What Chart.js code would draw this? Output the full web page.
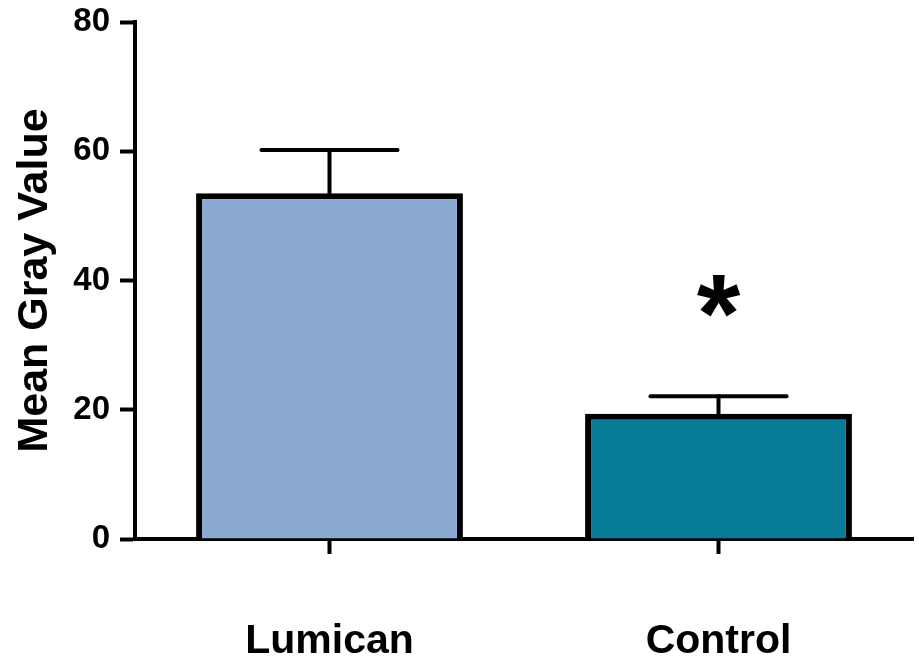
<!DOCTYPE html>
<html>
<head>
<meta charset="utf-8">
<script src="https://cdn.jsdelivr.net/npm/chart.js@4/dist/chart.umd.min.js"></script>
<style>
html,body{margin:0;padding:0;background:#fff;}
#wrap{width:919px;height:658px;position:relative;}
</style>
</head>
<body>
<div id="wrap"><canvas id="c" width="919" height="658"></canvas></div>
<script>
const categories = ['Lumican', 'Control'];
const means = [53.5, 19.4];
const sems = [6.7, 2.7];
const marks = ['', '*'];
const yTicks = [0, 20, 40, 60, 80];
const barColors = ['#8AAAD2', '#087C96'];

const FONT = "'Liberation Sans', Arial, sans-serif";

const errorBarPlugin = {
  id: 'errorBars',
  afterDatasetsDraw(chart) {
    const ctx = chart.ctx;
    const meta = chart.getDatasetMeta(0);
    const y = chart.scales.y;
    ctx.save();
    ctx.strokeStyle = '#000';
    ctx.lineWidth = 4;
    ctx.lineCap = 'round';
    meta.data.forEach((bar, i) => {
      const x = bar.x;
      const yTop = y.getPixelForValue(means[i] + sems[i]);
      const yBar = y.getPixelForValue(means[i]);
      const half = bar.width * 0.255;
      ctx.beginPath();
      ctx.moveTo(x, yBar + 2);
      ctx.lineTo(x, yTop);
      ctx.stroke();
      ctx.beginPath();
      ctx.moveTo(x - half, yTop);
      ctx.lineTo(x + half, yTop);
      ctx.stroke();
      if (marks[i]) {
        ctx.font = 'bold 112px ' + FONT;
        ctx.fillStyle = '#000';
        ctx.textAlign = 'center';
        ctx.textBaseline = 'alphabetic';
        const m = ctx.measureText(marks[i]);
        const centerY = yTop - 100;
        const top = centerY - (m.actualBoundingBoxAscent + m.actualBoundingBoxDescent) / 2;
        ctx.fillText(marks[i], x, top + m.actualBoundingBoxAscent);
      }
    });
    ctx.restore();
  }
};

new Chart(document.getElementById('c'), {
  type: 'bar',
  data: {
    labels: categories,
    datasets: [{
      data: means,
      backgroundColor: barColors,
      borderColor: '#000',
      borderWidth: 6,
      borderSkipped: 'start',
      categoryPercentage: 1,
      barPercentage: 0.686
    }]
  },
  options: {
    responsive: false,
    animation: false,
    devicePixelRatio: 1,
    layout: { padding: { top: 22, right: 6, bottom: 0, left: 0 } },
    plugins: { legend: { display: false }, tooltip: { enabled: false } },
    scales: {
      x: {
        offset: true,
        grid: { offset: false, drawOnChartArea: false, drawTicks: true, tickLength: 15, tickWidth: 4, tickColor: '#000' },
        border: { display: true, color: '#000', width: 4 },
        ticks: { color: '#000', padding: 63, font: { family: FONT, size: 41, weight: 'bold' } },
        afterFit(scale) { scale.height = 119; scale.paddingLeft = 0; scale.paddingRight = 0; }
      },
      y: {
        min: 0,
        max: 80,
        afterBuildTicks(scale) { scale.ticks = yTicks.map(v => ({ value: v })); },
        grid: { drawOnChartArea: false, drawTicks: true, tickLength: 15, tickWidth: 4, tickColor: '#000' },
        border: { display: true, color: '#000', width: 4 },
        ticks: { color: '#000', padding: 10, font: { family: FONT, size: 33, weight: 'bold' } },
        title: { display: true, text: 'Mean Gray Value', color: '#000', padding: { top: 9, bottom: 0 }, font: { family: FONT, size: 43, weight: 'bold' } },
        afterFit(scale) { scale.width = 135; scale.paddingTop = 0; scale.paddingBottom = 0; }
      }
    }
  },
  plugins: [errorBarPlugin]
});
</script>
</body>
</html>
